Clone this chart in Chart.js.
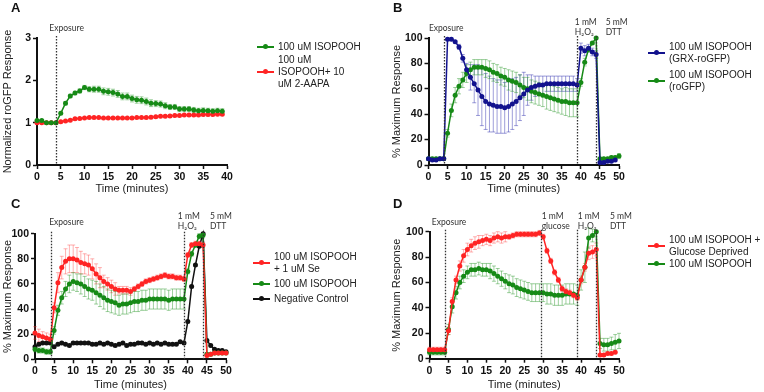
<!DOCTYPE html>
<html>
<head>
<meta charset="utf-8">
<script src="https://cdn.jsdelivr.net/npm/chart.js@4"></script>
<style>
  body { margin: 0; background: #fff; }
  #wrap { position: relative; width: 764px; height: 392px; overflow: hidden; font-family: "Liberation Sans", Arial, sans-serif; }
  canvas { position: absolute; }
  .letter { position: absolute; font-weight: bold; font-size: 13px; color: #111; }
  .item { position: absolute; display: flex; align-items: center; font-size: 10px; line-height: 12px; color: #222; transform: translateY(-50%); }
  .sym { position: relative; width: 17px; height: 2px; margin-right: 4px; flex: none; }
  .sym i { position: absolute; left: 6px; top: -2px; width: 5px; height: 5px; border-radius: 50%; }
</style>
</head>
<body>
<div id="wrap">
  <canvas id="chartA" width="382" height="196" style="left:0;top:0"></canvas>
  <canvas id="chartB" width="382" height="196" style="left:382px;top:0"></canvas>
  <canvas id="chartC" width="382" height="196" style="left:0;top:196px"></canvas>
  <canvas id="chartD" width="382" height="196" style="left:382px;top:196px"></canvas>
  <div class="letter" style="left:11px;top:0">A</div>
  <div class="letter" style="left:393px;top:0">B</div>
  <div class="letter" style="left:11px;top:196px">C</div>
  <div class="letter" style="left:393px;top:196px">D</div>
  <div id="legends"></div>
</div>
<script>
// time points (minutes)
const timesA = [0,1,2,3,4,5,6,7,8,9,10,11,12,13,14,15,16,17,18,19,20,21,22,23,24,25,26,27,28,29,30,31,32,33,34,35,36,37,38,39];
const times = [0,1,2,3,4,5,6,7,8,9,10,11,12,13,14,15,16,17,18,19,20,21,22,23,24,25,26,27,28,29,30,31,32,33,34,35,36,37,38,39,40,41,42,43,44,45,46,47,48,49,50];

// Panel A - normalized roGFP response
const aIso = [1.05,1.05,1.00,1.00,1.00,1.22,1.46,1.63,1.70,1.75,1.83,1.79,1.79,1.79,1.74,1.73,1.71,1.68,1.62,1.62,1.57,1.54,1.53,1.50,1.46,1.45,1.44,1.40,1.37,1.37,1.32,1.32,1.32,1.30,1.28,1.29,1.28,1.27,1.28,1.27];
const aIsoErr = [0.02,0.02,0.02,0.02,0.02,0.03,0.04,0.04,0.04,0.05,0.05,0.06,0.07,0.07,0.08,0.08,0.08,0.08,0.08,0.08,0.08,0.08,0.08,0.08,0.08,0.07,0.07,0.07,0.06,0.06,0.06,0.06,0.06,0.06,0.06,0.06,0.06,0.06,0.06,0.06];
const aAapa = [1.00,1.00,1.00,1.00,1.00,1.02,1.04,1.06,1.09,1.10,1.11,1.12,1.12,1.12,1.11,1.11,1.11,1.11,1.11,1.11,1.11,1.12,1.12,1.12,1.13,1.14,1.15,1.15,1.16,1.17,1.17,1.18,1.18,1.18,1.18,1.19,1.19,1.19,1.20,1.20];
const aAapaErr = [0.02,0.02,0.02,0.02,0.02,0.02,0.02,0.02,0.02,0.02,0.02,0.02,0.02,0.02,0.02,0.02,0.02,0.02,0.02,0.02,0.02,0.02,0.02,0.03,0.03,0.03,0.03,0.03,0.03,0.03,0.03,0.03,0.03,0.03,0.03,0.03,0.03,0.03,0.03,0.03];

// Panel B - % maximum response
const bGrx = [5,4,4,5,5,99,99,97,93,84,75,69,64,59,54,50,48,47,46,46,45,46,48,50,53,56,59,61,62,63,63,64,64,64,64,64,64,64,64,63,92,90,92,89,87,2,2,3,3,4];
const bGrxErr = [1,1,1,1,1,1,1,1,2,3,5,10,15,20,23,22,22,21,21,21,20,20,20,19,18,17,12,10,8,7,7,6,6,6,6,6,6,6,6,5,4,4,3,3,3,1,1,1,1,1];
const bRo = [5,5,5,5,5,25,43,55,62,67,72,75,77,77,77,76,75,73,72,70,69,67,66,65,63,61,60,58,57,56,55,54,53,52,51,50,50,49,49,49,65,81,91,96,100,5,5,5,6,6,7];
const bRoErr = [1,1,1,1,1,3,5,6,6,6,7,6,6,6,6,7,7,7,7,7,7,8,8,8,8,8,9,9,9,9,9,10,10,10,10,10,11,11,11,11,3,3,2,1,0,1,1,1,1,1,2];

// Panel C
const cSe = [21,19,18,17,16,41,61,73,78,80,80,79,77,76,75,72,68,65,62,60,58,56,55,55,55,54,56,58,60,62,63,64,65,66,67,66,66,65,65,64,83,91,92,92,91,3,4,5,5,5,5];
const cSeErr = [5,5,4,4,4,4,8,9,10,11,11,10,9,8,8,8,8,8,5,5,5,5,3,3,3,3,2,2,2,2,2,2,2,2,2,2,2,2,2,2,2,2,2,2,2,1,1,1,1,1,1];
const cIso = [8,7,7,6,6,23,39,49,56,60,62,61,60,58,56,55,53,51,49,47,46,45,43,44,44,45,46,46,47,47,48,48,48,48,48,47,48,48,48,48,70,84,91,98,99,4,4,5,5,5,5];
const cIsoErr = [2,2,2,2,2,3,4,5,6,7,7,7,8,8,8,8,9,9,9,9,9,9,8,8,8,8,8,8,8,8,8,8,8,8,8,8,8,8,8,8,2,2,2,2,2,1,1,1,1,1,1];
const cNeg = [10,12,13,13,13,10,12,13,12,11,13,13,13,13,13,12,12,13,12,13,12,11,12,13,11,12,12,13,13,12,13,12,13,12,13,12,12,12,14,13,30,58,75,90,100,15,11,8,7,7,6];
const cNegErr = [1,1,1,1,1,1,1,1,1,1,1,1,1,1,1,1,1,1,1,1,1,1,1,1,1,1,1,1,1,1,1,1,1,1,1,1,1,1,1,1,1,1,1,1,1,1,1,1,1,1,1];

// Panel D
const dGlu = [7,7,7,7,7,22,45,62,73,81,86,89,91,92,93,94,93,95,96,95,96,96,97,98,98,98,98,98,98,99,96,85,77,68,62,55,53,52,50,48,62,72,83,84,86,3,3,4,4,5];
const dGluErr = [2,2,2,2,2,3,3,3,4,5,5,5,5,5,4,4,4,4,4,4,4,2,2,2,2,2,2,2,2,2,2,2,2,2,2,2,2,2,2,2,3,3,5,5,5,1,1,1,1,1];
const dIso = [5,5,5,5,5,23,41,52,60,65,68,70,70,71,70,70,69,67,65,63,61,59,58,56,55,54,53,52,52,52,52,51,51,50,50,50,51,51,51,50,62,72,95,97,100,12,11,11,12,13,14];
const dIsoErr = [2,2,2,2,2,4,5,5,5,5,5,5,5,5,5,5,6,6,6,6,6,7,7,7,7,7,7,7,7,7,7,8,8,8,8,8,8,8,8,8,8,12,8,5,0,4,5,5,5,6,6];

const GREEN = '#168a16', RED = '#ff2424', BLUE = '#12128e', BLACK = '#111111';
const ERR = { [GREEN]: 'rgba(40,150,40,0.45)', [RED]: 'rgba(255,60,60,0.4)', [BLUE]: 'rgba(40,40,170,0.45)', [BLACK]: 'rgba(0,0,0,0.35)' };

Chart.defaults.font.family = '"Liberation Sans", Arial, sans-serif';
Chart.defaults.color = '#111';

const errorBars = {
  id: 'errorBars',
  beforeDatasetsDraw(chart) {
    const ctx = chart.ctx, ys = chart.scales.y;
    chart.data.datasets.forEach(function(ds, i) {
      const meta = chart.getDatasetMeta(i);
      ctx.save();
      ctx.strokeStyle = ERR[ds.borderColor];
      ctx.lineWidth = 1;
      meta.data.forEach(function(pt, j) {
        const e = ds.errors[j];
        if (!e) return;
        const v = ds.data[j].y;
        const t = ys.getPixelForValue(v + e), b = ys.getPixelForValue(v - e);
        ctx.beginPath();
        ctx.moveTo(pt.x, t); ctx.lineTo(pt.x, b);
        ctx.moveTo(pt.x - 2, t); ctx.lineTo(pt.x + 2, t);
        ctx.moveTo(pt.x - 2, b); ctx.lineTo(pt.x + 2, b);
        ctx.stroke();
      });
      ctx.restore();
    });
  }
};

const markers = {
  id: 'markers',
  afterDatasetsDraw(chart, args, opts) {
    const ctx = chart.ctx, xs = chart.scales.x, area = chart.chartArea;
    ctx.save();
    ctx.strokeStyle = '#333';
    ctx.lineWidth = 1.3;
    ctx.setLineDash([1.5, 1.5]);
    opts.lines.forEach(function(v) {
      const px = Math.round(xs.getPixelForValue(v)) + 0.5;
      ctx.beginPath();
      ctx.moveTo(px, area.top - 2);
      ctx.lineTo(px, area.bottom);
      ctx.stroke();
    });
    ctx.fillStyle = '#333';
    ctx.font = '8.5px Lato, "Open Sans", sans-serif';
    ctx.textBaseline = 'middle';
    opts.labels.forEach(function(l) {
      const px = xs.getPixelForValue(l.x);
      l.text.forEach(function(t, k) {
        ctx.fillText(t, px, area.top + l.dy + k * 10.5);
      });
    });
    ctx.restore();
  }
};

function series(label, xs, ys, errs, color) {
  return {
    label: label,
    data: ys.map(function(v, i) { return { x: xs[i], y: v }; }),
    errors: errs,
    borderColor: color,
    backgroundColor: color,
    borderWidth: 1.5,
    pointRadius: 2.5,
    pointHoverRadius: 2.5,
    pointBorderWidth: 0,
    tension: 0,
    clip: false
  };
}

function panel(id, datasets, cfg) {
  const tickFont = { size: 10.5, weight: 'bold' };
  new Chart(document.getElementById(id), {
    type: 'line',
    data: { datasets: datasets },
    options: {
      responsive: false,
      animation: false,
      events: [],
      layout: { padding: { left: cfg.padLeft, top: cfg.top, right: cfg.right, bottom: 0 } },
      scales: {
        x: {
          type: 'linear', min: 0, max: cfg.xMax,
          ticks: { stepSize: 5, font: tickFont, padding: 2, color: '#111' },
          grid: { drawOnChartArea: false, tickLength: 4, tickWidth: 1.5, tickColor: '#111' },
          border: { color: '#111', width: 2 },
          title: { display: true, text: 'Time (minutes)', font: { size: 11 }, color: '#222', padding: 0 },
          afterFit: function(s) { s.height = cfg.xHeight; s.paddingLeft = 0; s.paddingRight = 0; }
        },
        y: {
          min: 0, max: cfg.yMax,
          ticks: { stepSize: cfg.yStep, font: tickFont, padding: 2, color: '#111' },
          grid: { drawOnChartArea: false, tickLength: 4, tickWidth: 1.5, tickColor: '#111' },
          border: { color: '#111', width: 2 },
          title: { display: true, text: cfg.yTitle, font: { size: 11 }, color: '#222', padding: 0 },
          afterFit: function(s) { s.width = cfg.yWidth; s.paddingTop = 0; s.paddingBottom = 0; }
        }
      },
      plugins: {
        legend: { display: false },
        tooltip: { enabled: false },
        markers: cfg.markers
      }
    },
    plugins: [errorBars, markers]
  });
}

panel('chartA', [
  series('100 uM ISOPOOH', timesA, aIso, aIsoErr, GREEN),
  series('100 uM ISOPOOH+ 10 uM 2-AAPA', timesA, aAapa, aAapaErr, RED)
], { padLeft: 1, yWidth: 36, top: 38, right: 155, xHeight: 31, xMax: 40, yMax: 3, yStep: 1,
     yTitle: 'Normalized roGFP Response',
     markers: { lines: [4], labels: [{ x: 2.6, dy: -10, text: ['Exposure'] }] } });

panel('chartB', [
  series('100 uM ISOPOOH (GRX-roGFP)', times, bGrx, bGrxErr, BLUE),
  series('100 uM ISOPOOH (roGFP)', times, bRo, bRoErr, GREEN)
], { padLeft: 8.5, yWidth: 38, top: 38, right: 145, xHeight: 31, xMax: 50, yMax: 100, yStep: 20,
     yTitle: '% Maximum Response',
     markers: { lines: [4, 39, 44], labels: [
       { x: 0.1, dy: -10, text: ['Exposure'] },
       { x: 38.4, dy: -16, text: ['1 mM', 'H\u2082O\u2082'] },
       { x: 46.5, dy: -16, text: ['5 mM', 'DTT'] }] } });

panel('chartC', [
  series('100 uM ISOPOOH + 1 uM Se', times, cSe, cSeErr, RED),
  series('100 uM ISOPOOH', times, cIso, cIsoErr, GREEN),
  series('Negative Control', times, cNeg, cNegErr, BLACK)
], { padLeft: 1, yWidth: 34, top: 37.7, right: 156, xHeight: 32.7, xMax: 50, yMax: 100, yStep: 20,
     yTitle: '% Maximum Response',
     markers: { lines: [4.3, 39, 44], labels: [
       { x: 3.7, dy: -11, text: ['Exposure'] },
       { x: 37.4, dy: -17.5, text: ['1 mM', 'H\u2082O\u2082'] },
       { x: 45.8, dy: -17.5, text: ['5 mM', 'DTT'] }] } });

panel('chartD', [
  series('100 uM ISOPOOH + Glucose Deprived', times, dGlu, dGluErr, RED),
  series('100 uM ISOPOOH', times, dIso, dIsoErr, GREEN)
], { padLeft: 8.5, yWidth: 39, top: 35.7, right: 145, xHeight: 33.3, xMax: 50, yMax: 100, yStep: 20,
     yTitle: '% Maximum Response',
     markers: { lines: [4, 29.4, 39, 44], labels: [
       { x: 0.6, dy: -9, text: ['Exposure'] },
       { x: 29.6, dy: -15.5, text: ['1 mM', 'glucose'] },
       { x: 39.1, dy: -15.5, text: ['1 mM', 'H\u2082O\u2082'] },
       { x: 47.6, dy: -15.5, text: ['5 mM', 'DTT'] }] } });

// HTML legends: [left, centerY, color, lines]
const legendItems = [
  [257, 46.7, GREEN, ['100 uM ISOPOOH']],
  [257, 72, RED, ['100 uM', 'ISOPOOH+ 10', 'uM 2-AAPA']],
  [648, 53, BLUE, ['100 uM ISOPOOH', '(GRX-roGFP)']],
  [648, 81, GREEN, ['100 uM ISOPOOH', '(roGFP)']],
  [253, 262.5, RED, ['100 uM ISOPOOH', '+ 1 uM Se']],
  [253, 283.7, GREEN, ['100 uM ISOPOOH']],
  [253, 298.7, BLACK, ['Negative Control']],
  [648, 246, RED, ['100 uM ISOPOOH +', 'Glucose Deprived']],
  [648, 264.3, GREEN, ['100 uM ISOPOOH']]
];
const legendBox = document.getElementById('legends');
legendItems.forEach(function(it) {
  const d = document.createElement('div');
  d.className = 'item';
  d.style.left = it[0] + 'px';
  d.style.top = it[1] + 'px';
  d.innerHTML = '<span class="sym" style="background:' + it[2] + '"><i style="background:' + it[2] + '"></i></span><span>' + it[3].join('<br>') + '</span>';
  legendBox.appendChild(d);
});
</script>
</body>
</html>
